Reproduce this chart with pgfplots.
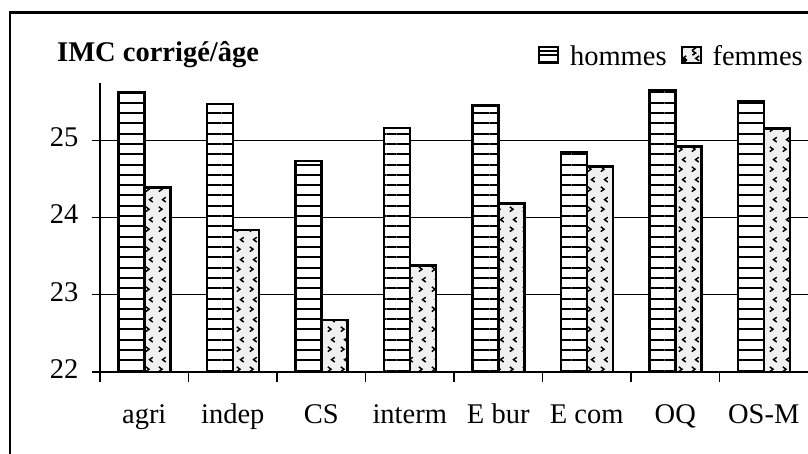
\documentclass[border=0pt]{standalone}
\usepackage{pgfplots}
\pgfplotsset{compat=1.18}
\usepackage{fontspec}
\setmainfont{Liberation Serif}
\usetikzlibrary{patterns.meta}

\pgfdeclarepattern{
  name=femmesmarks,
  type=uncolored,
  bottom left={\pgfpoint{0pt}{0pt}},
  top right={\pgfpoint{13pt}{20pt}},
  tile size={\pgfpoint{13pt}{20pt}},
  code={
    \pgfsetlinewidth{1.5pt}
    \pgfpathmoveto{\pgfpoint{3pt}{7.5pt}}
    \pgfpathlineto{\pgfpoint{6.5pt}{5pt}}
    \pgfpathlineto{\pgfpoint{3pt}{2.5pt}}
    \pgfusepath{stroke}
    \pgfpathmoveto{\pgfpoint{10.5pt}{17.5pt}}
    \pgfpathlineto{\pgfpoint{7pt}{15pt}}
    \pgfpathlineto{\pgfpoint{10.5pt}{12.5pt}}
    \pgfusepath{stroke}
  }
}

\begin{document}
\begin{tikzpicture}
\useasboundingbox (0,0) rectangle (808pt,453pt);
\clip (0,0) rectangle (808pt,453pt);
\draw[line width=2.2pt] (10pt,-10pt) -- (10pt,440.5pt) -- (830pt,440.5pt);
\node[anchor=base west, font=\bfseries\fontsize{28.5}{32}\selectfont, inner sep=0pt] at (57pt,391pt) {IMC corrigé/âge};
\begin{axis}[
  at={(100pt,81pt)}, anchor=south west,
  scale only axis, width=708pt, height=289pt,
  xmin=-0.5, xmax=7.5, ymin=22, ymax=25.74,
  axis lines=left, axis line style={-, line width=1.2pt, black},
  ybar, bar width=26pt,
  xtick={0,...,7},
  xticklabels={agri,indep,CS,interm,E bur,E com,OQ,OS-M},
  minor xtick={-0.5,0.5,...,6.5},
  major x tick style={draw=none},
  minor x tick style={line width=1.2pt, black},
  minor tick length=10pt,
  ytick={22,23,24,25},
  major tick length=8pt,
  tick align=outside,
  y tick style={line width=1.2pt, black},
  ymajorgrids, grid style={line width=1.2pt, black},
  tick label style={font=\fontsize{28.5}{32}\selectfont},
  xticklabel style={yshift=-18pt},
  typeset ticklabels with strut,
  yticklabel style={xshift=-10pt},
  /pgf/number format/assume math mode=true,
  enlargelimits=false,
  legend columns=-1,
  legend style={at={(1,1)}, anchor=south east, yshift=12pt, draw=none, fill=none,
    font=\fontsize{28.5}{32}\selectfont,
    /tikz/every odd column/.style={column sep=9pt},
    /tikz/every even column/.style={column sep=12pt}},
]
\addplot[bar shift=-13pt, draw=black, line width=2.5pt, fill=white,
  postaction={pattern={Lines[angle=0,distance=10.3pt,line width=2pt]}},
  legend image code/.code={\draw[line width=2pt, fill=white] (0pt,-7pt) rectangle (19pt,9pt); \draw[line width=2pt] (0pt,1pt)--(19pt,1pt);}]
  coordinates {(0,25.62) (1,25.47) (2,24.73) (3,25.16) (4,25.45) (5,24.85) (6,25.65) (7,25.51)};
\addlegendentry{hommes}
\addplot[bar shift=13pt, draw=black, line width=2.5pt, fill=black!6,
  postaction={pattern=femmesmarks},
  legend image code/.code={\draw[line width=2pt, fill=black!6] (0pt,-7pt) rectangle (19pt,9pt); \draw[line width=1.3pt] (11pt,5pt)--(14pt,3pt)--(11pt,1pt); \fill (3pt,-4pt) circle (1pt);}]
  coordinates {(0,24.39) (1,23.84) (2,22.67) (3,23.38) (4,24.18) (5,24.66) (6,24.92) (7,25.15)};
\addlegendentry{femmes}
\end{axis}
\end{tikzpicture}
\end{document}
